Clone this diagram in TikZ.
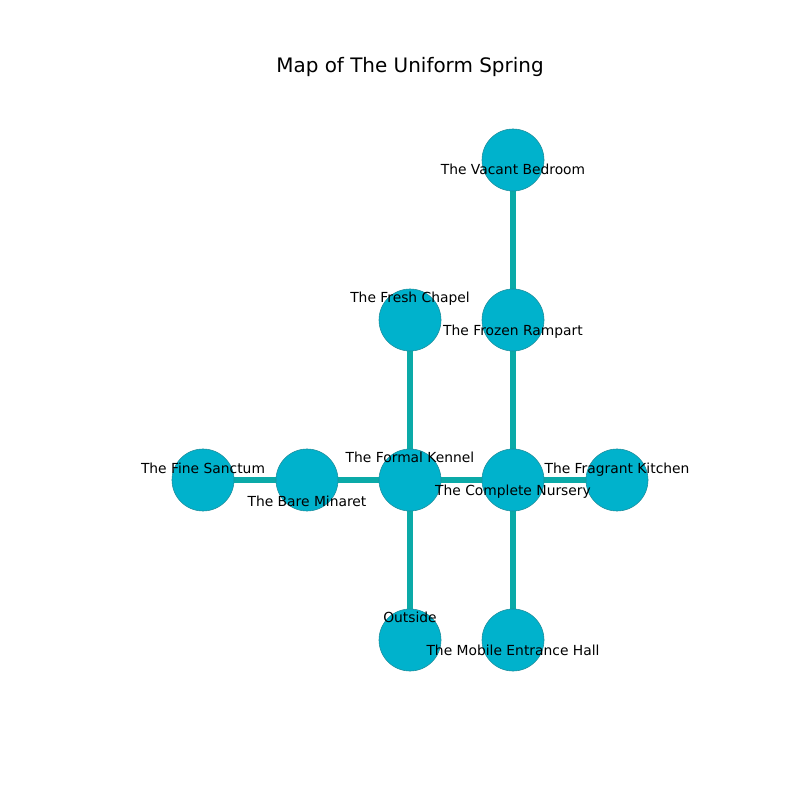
\documentclass[tikz,border=0pt]{standalone}
\usepackage{fontspec}
\setmainfont{DejaVu Sans}
\definecolor{roomfill}{RGB}{0,178,204}
\definecolor{roomedge}{RGB}{30,140,155}
\definecolor{passagecol}{RGB}{10,170,168}
\begin{document}
\begin{tikzpicture}[x=0.01in,y=-0.01in,
  room/.style={circle,draw=roomedge,line width=0.4pt,
    fill=roomfill,minimum size=0.62in,inner sep=0pt},
  passage/.style={line width=3.8pt,draw=passagecol},
  lbl/.style={font=\fontsize{10pt}{12pt}\selectfont,inner sep=0pt,anchor=base}]
\useasboundingbox (0,0) rectangle (800,800);
\node[font=\fontsize{14.4pt}{17pt}\selectfont,anchor=base] (title) at (410,73) {Map of The Uniform Spring};
% room centres
\coordinate (pvb) at (513,160);
\coordinate (pfr) at (513,320);
\coordinate (pfc) at (410,320);
\coordinate (pfk) at (410,480);
\coordinate (pcn) at (513,480);
\coordinate (pfg) at (617,480);
\coordinate (pbm) at (307,480);
\coordinate (pfs) at (203,480);
\coordinate (pout) at (410,640);
\coordinate (pmh) at (513,640);
% passages
\draw[passage] (pvb) -- (pfr);
\draw[passage] (pfr) -- (pcn);
\draw[passage] (pfc) -- (pfk);
\draw[passage] (pfk) -- (pout);
\draw[passage] (pcn) -- (pmh);
\draw[passage] (pfs) -- (pbm);
\draw[passage] (pbm) -- (pfk);
\draw[passage] (pfk) -- (pcn);
\draw[passage] (pcn) -- (pfg);
% rooms
\node[room] (vb) at (pvb) {};
\node[room] (fr) at (pfr) {};
\node[room] (fc) at (pfc) {};
\node[room] (fk) at (pfk) {};
\node[room] (cn) at (pcn) {};
\node[room] (fg) at (pfg) {};
\node[room] (bm) at (pbm) {};
\node[room] (fs) at (pfs) {};
\node[room] (out) at (pout) {};
\node[room] (mh) at (pmh) {};
% labels
\node[lbl] (lvb) at (513,175) {The Vacant Bedroom};
\node[lbl] (lfr) at (513,335) {The Frozen Rampart};
\node[lbl] (lfc) at (410,302) {The Fresh Chapel};
\node[lbl] (lfk) at (410,462) {The Formal Kennel};
\node[lbl] (lcn) at (513,495) {The Complete Nursery};
\node[lbl] (lfg) at (617,473) {The Fragrant Kitchen};
\node[lbl] (lbm) at (307,506) {The Bare Minaret};
\node[lbl] (lfs) at (203,473) {The Fine Sanctum};
\node[lbl] (lout) at (410,622) {Outside};
\node[lbl] (lmh) at (513,655) {The Mobile Entrance Hall};
\end{tikzpicture}
\end{document}
